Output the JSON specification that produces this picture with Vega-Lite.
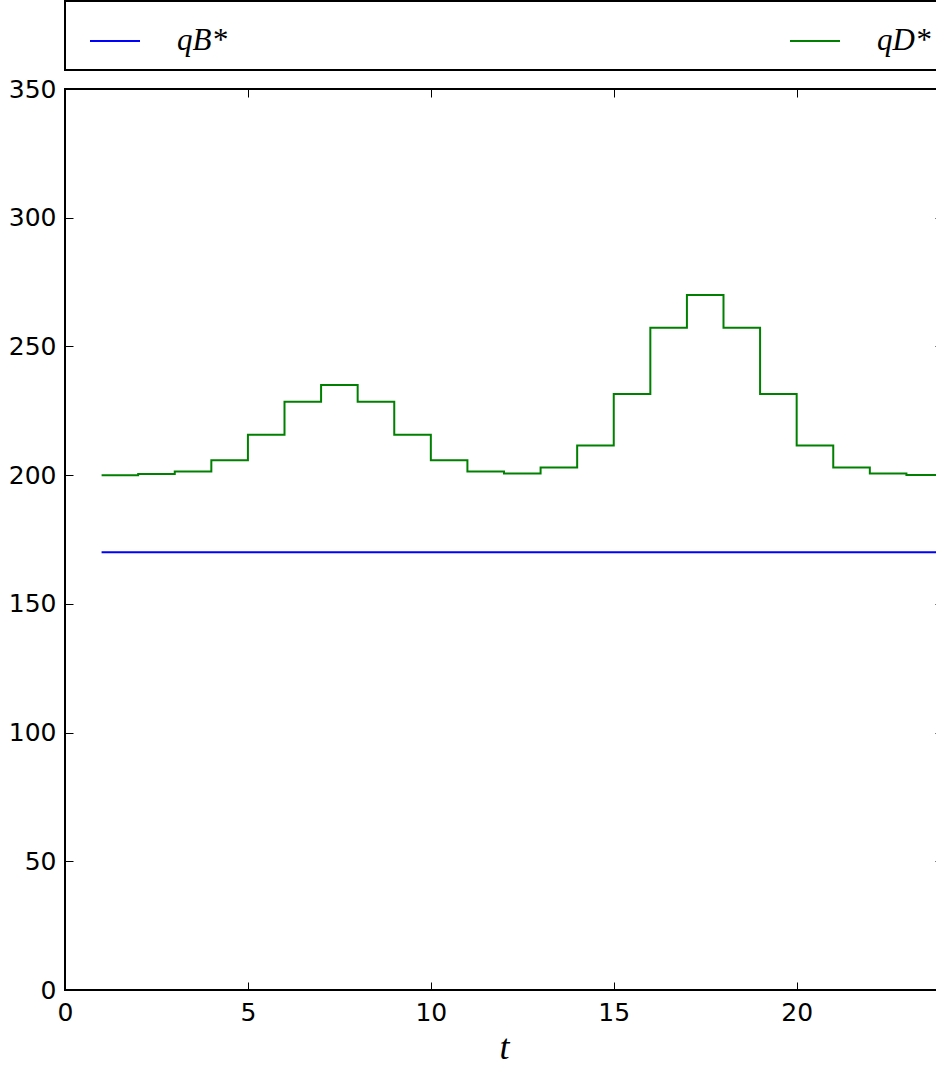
{
  "$schema": "https://vega.github.io/schema/vega-lite/v6.json",
  "autosize": {"type": "none"},
  "padding": {"left": 65, "top": 89, "right": 0, "bottom": 78},
  "width": 878,
  "height": 901,
  "background": "white",
  "config": {
    "view": {"stroke": "black", "strokeWidth": 2},
    "axis": {"grid": false, "domain": false, "tickColor": "black", "tickWidth": 1, "tickSize": -8, "labelFont": "DejaVu Sans", "labelFontSize": 25, "labelColor": "black", "labelFlush": false},
    "legend": {"strokeColor": "black", "strokeWidth": 2, "fillColor": "white"}
  },
  "data": {"values": [
    {"t": 1, "series": "B", "q": 170}, {"t": 24, "series": "B", "q": 170},
    {"t": 1, "series": "D", "q": 200.0},
    {"t": 2, "series": "D", "q": 200.4},
    {"t": 3, "series": "D", "q": 201.4},
    {"t": 4, "series": "D", "q": 205.8},
    {"t": 5, "series": "D", "q": 215.7},
    {"t": 6, "series": "D", "q": 228.5},
    {"t": 7, "series": "D", "q": 235.0},
    {"t": 8, "series": "D", "q": 228.5},
    {"t": 9, "series": "D", "q": 215.7},
    {"t": 10, "series": "D", "q": 205.8},
    {"t": 11, "series": "D", "q": 201.4},
    {"t": 12, "series": "D", "q": 200.6},
    {"t": 13, "series": "D", "q": 203.0},
    {"t": 14, "series": "D", "q": 211.5},
    {"t": 15, "series": "D", "q": 231.5},
    {"t": 16, "series": "D", "q": 257.3},
    {"t": 17, "series": "D", "q": 270.0},
    {"t": 18, "series": "D", "q": 257.3},
    {"t": 19, "series": "D", "q": 231.5},
    {"t": 20, "series": "D", "q": 211.5},
    {"t": 21, "series": "D", "q": 203.0},
    {"t": 22, "series": "D", "q": 200.6},
    {"t": 23, "series": "D", "q": 200.1},
    {"t": 24, "series": "D", "q": 200.1}
  ]},
  "layer": [
    {
      "mark": {"type": "line", "interpolate": "step-after", "strokeWidth": 2},
      "encoding": {
        "x": {"field": "t", "type": "quantitative", "scale": {"domain": [0, 24], "nice": false, "zero": false},
              "axis": {"orient": "bottom", "values": [0, 5, 10, 15, 20], "title": "t", "titleFont": "Liberation Serif", "titleFontStyle": "italic", "titleFontWeight": "normal", "titleFontSize": 36, "titlePadding": 5, "labelPadding": 18}},
        "y": {"field": "q", "type": "quantitative", "scale": {"domain": [0, 350], "nice": false},
              "axis": {"orient": "left", "values": [0, 50, 100, 150, 200, 250, 300, 350], "title": null, "labelPadding": 17}},
        "color": {"field": "series", "type": "nominal",
                  "scale": {"domain": ["B", "D"], "range": ["#0000ff", "#008000"]},
                  "legend": {"orient": "none", "legendX": 0, "legendY": -88, "direction": "horizontal", "columns": 2, "columnPadding": 552, "title": null, "symbolType": "stroke", "symbolSize": 2500, "symbolStrokeWidth": 2, "symbolOffset": 10, "labelFont": "Liberation Serif", "labelFontStyle": "italic", "labelFontSize": 31, "labelOffset": 36, "padding": 14, "labelExpr": "datum.value == 'B' ? 'qB*' : 'qD*'"}}
      }
    },
    {
      "mark": {"type": "line", "opacity": 0},
      "encoding": {
        "x": {"field": "t", "type": "quantitative", "axis": {"orient": "top", "values": [0, 5, 10, 15, 20], "labels": false, "title": null}},
        "y": {"field": "q", "type": "quantitative", "axis": {"orient": "right", "values": [0, 50, 100, 150, 200, 250, 300, 350], "labels": false, "title": null}}
      }
    }
  ]
}
